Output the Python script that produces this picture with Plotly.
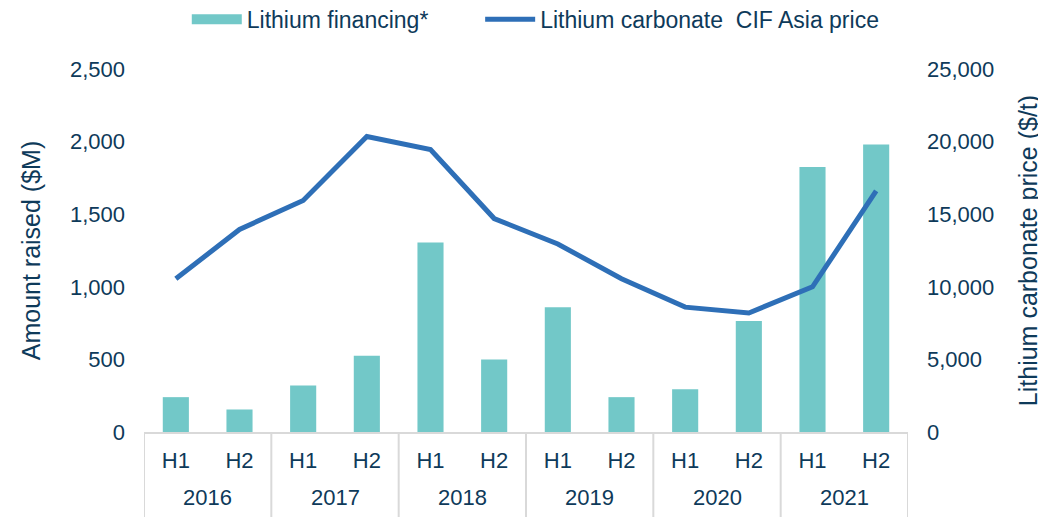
import plotly.graph_objects as go

years = ["2016", "2016", "2017", "2017", "2018", "2018", "2019", "2019", "2020", "2020", "2021", "2021"]
halves = ["H1", "H2"] * 6
financing = [240, 155, 320, 525, 1305, 500, 860, 240, 295, 765, 1825, 1980]
price = [10550, 13950, 15950, 20350, 19450, 14700, 12950, 10550, 8600, 8200, 10000, 16600]

txt = "#0E3A5A"
teal = "#72C8C8"
blue = "#2E6FB7"
grid = "#D9D9D9"

cats = [f"{y} {h}" for y, h in zip(years, halves)]

fig = go.Figure()
fig.add_trace(go.Bar(x=cats, y=financing, name="Lithium financing*", showlegend=False,
                     marker=dict(color=teal, line=dict(width=0)), yaxis="y"))
# legend proxy giving the wide rectangular swatch of the reference
fig.add_trace(go.Scatter(x=cats, y=[None] * len(cats), name="Lithium financing*",
                         mode="lines", line=dict(color=teal, width=13), yaxis="y",
                         hoverinfo="skip", legend="legend"))
fig.add_trace(go.Scatter(x=cats, y=price, name="Lithium carbonate  CIF Asia price",
                         mode="lines", line=dict(color=blue, width=5), yaxis="y2",
                         legend="legend2"))

# year group labels and dividers below the axis
unique_years = list(dict.fromkeys(years))
for yr in unique_years:
    idx = [i for i, v in enumerate(years) if v == yr]
    fig.add_annotation(x=sum(idx) / len(idx), y=0, xref="x", yref="paper",
                       text=yr, showarrow=False, yanchor="middle", yshift=-65,
                       font=dict(size=22, color=txt))
bounds = [-0.5] + [i + 0.5 for i in range(len(years) - 1) if years[i] != years[i + 1]] + [len(years) - 0.5]
for b in bounds:
    fig.add_shape(type="line", xref="x", yref="paper", x0=b, x1=b, y0=0, y1=-0.3,
                  line=dict(color=grid, width=2), layer="below")

leg_common = dict(orientation="h", xanchor="left", y=0.978, yanchor="middle",
                  yref="container", font=dict(size=23, color=txt), itemwidth=50)

fig.update_layout(
    width=1038, height=509,
    margin=dict(l=136, r=138, t=61, b=85),
    paper_bgcolor="white", plot_bgcolor="white",
    font=dict(family="Liberation Sans, Arial", size=22, color=txt),
    bargap=0.59,
    separators=".,",
    showlegend=True,
    legend=dict(x=0.056, **leg_common),
    legend2=dict(x=0.44, **leg_common),
    xaxis=dict(type="category", showline=True, linecolor=grid, linewidth=2,
               tickvals=cats, ticktext=halves, automargin=False,
               ticklabelstandoff=8, range=[-0.5, len(cats) - 0.5],
               tickfont=dict(size=22, color=txt), showgrid=False, ticks=""),
    yaxis=dict(range=[0, 2500], dtick=500, tickformat=",", showgrid=False, zeroline=False,
               automargin="left", ticklabelstandoff=18,
               title=dict(text="Amount raised ($M)", font=dict(size=25, color=txt), standoff=22),
               tickfont=dict(size=22, color=txt)),
    yaxis2=dict(range=[0, 25000], dtick=5000, tickformat=",", overlaying="y", side="right",
                showgrid=False, zeroline=False, automargin="right", ticklabelstandoff=18,
                title=dict(text="Lithium carbonate price ($/t)", font=dict(size=25, color=txt), standoff=26),
                tickfont=dict(size=22, color=txt)),
)
fig.write_html("out.html")
